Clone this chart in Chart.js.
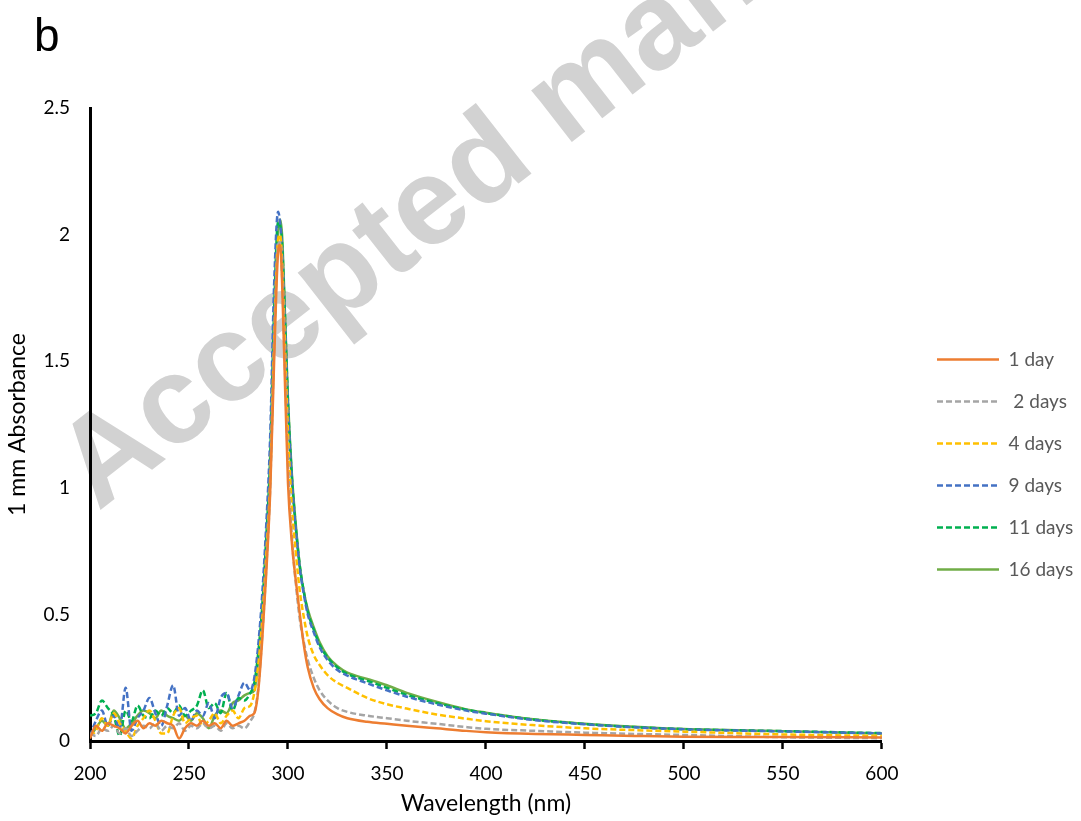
<!DOCTYPE html>
<html>
<head>
<meta charset="utf-8">
<script src="https://cdn.jsdelivr.net/npm/chart.js@4.4.0/dist/chart.umd.min.js"></script>
<style>
  body { margin: 0; background: #fff; }
  canvas { display: block; }
</style>
</head>
<body>
<canvas id="chart" width="1081" height="821"></canvas>
<script>
// wavelength (nm) shared by every series
const wavelength = [
  200, 203, 206, 209, 212, 215, 218, 221, 224, 227, 230, 233, 236, 239,
  242, 245, 248, 251, 254, 257, 260, 263, 266, 269, 272, 275, 278, 281,
  283, 285, 287, 289, 291, 293, 295, 296, 297, 298,
  300, 302, 304, 306, 308, 310, 313, 316, 320, 325, 330,
  340, 350, 360, 375, 390, 400, 425, 450, 475, 500, 550, 600
];

const day1 = [
  0.01, 0.06, 0.04, 0.07, 0.06, 0.05, 0.03, 0.06, 0.08, 0.05, 0.07, 0.06, 0.08, 0.07,
  0.06, 0.01, 0.05, 0.07, 0.06, 0.08, 0.06, 0.07, 0.05, 0.08, 0.06, 0.07, 0.08, 0.10,
  0.11, 0.20, 0.40, 0.66, 0.98, 1.50, 1.93, 1.96, 1.82, 1.55,
  1.02, 0.78, 0.63, 0.50, 0.38, 0.29, 0.21, 0.165, 0.13, 0.105, 0.090,
  0.076, 0.068, 0.060, 0.050, 0.040, 0.035, 0.028, 0.024, 0.020, 0.017, 0.016, 0.014
];
const days2 = [
  0.03, 0.02, 0.05, 0.04, 0.06, 0.03, 0.05, 0.02, 0.04, 0.06, 0.05, 0.07, 0.04, 0.06,
  0.05, 0.07, 0.04, 0.06, 0.05, 0.07, 0.05, 0.06, 0.04, 0.07, 0.05, 0.06, 0.05, 0.08,
  0.11, 0.21, 0.42, 0.68, 1.00, 1.55, 1.96, 1.97, 1.85, 1.60,
  1.10, 0.80, 0.62, 0.48, 0.39, 0.32, 0.25, 0.20, 0.16, 0.13, 0.115,
  0.100, 0.090, 0.080, 0.068, 0.055, 0.048, 0.040, 0.033, 0.028, 0.024, 0.015, 0.011
];
const days4 = [
  0.02, 0.04, 0.09, 0.06, 0.11, 0.07, 0.04, 0.01, 0.06, 0.09, 0.12, 0.08, 0.03, 0.03,
  0.10, 0.13, 0.07, 0.09, 0.10, 0.06, 0.08, 0.11, 0.07, 0.10, 0.12, 0.09, 0.13, 0.14,
  0.19, 0.30, 0.48, 0.73, 1.03, 1.58, 1.98, 2.00, 1.90, 1.68,
  1.22, 0.92, 0.74, 0.59, 0.49, 0.41, 0.34, 0.30, 0.26, 0.23, 0.21,
  0.170, 0.145, 0.128, 0.105, 0.088, 0.078, 0.062, 0.050, 0.043, 0.037, 0.026, 0.020
];
const days9 = [
  0.02, 0.08, 0.12, 0.06, 0.10, 0.05, 0.21, 0.04, 0.09, 0.12, 0.17, 0.11, 0.06, 0.14,
  0.22, 0.10, 0.13, 0.08, 0.12, 0.10, 0.15, 0.09, 0.17, 0.19, 0.13, 0.18, 0.23, 0.20,
  0.25, 0.38, 0.58, 0.85, 1.20, 1.80, 2.09, 2.05, 1.95, 1.75,
  1.32, 1.03, 0.83, 0.68, 0.58, 0.50, 0.43, 0.37, 0.32, 0.28, 0.258,
  0.228, 0.200, 0.175, 0.145, 0.120, 0.108, 0.082, 0.066, 0.054, 0.046, 0.038, 0.030
];
const days11 = [
  0.10, 0.11, 0.16, 0.13, 0.10, 0.02, 0.12, 0.08, 0.14, 0.10, 0.09, 0.12, 0.10, 0.13,
  0.11, 0.14, 0.10, 0.12, 0.14, 0.20, 0.13, 0.15, 0.11, 0.19, 0.12, 0.17, 0.16, 0.19,
  0.23, 0.35, 0.53, 0.80, 1.12, 1.70, 2.05, 2.04, 1.97, 1.78,
  1.34, 1.04, 0.84, 0.69, 0.59, 0.51, 0.44, 0.38, 0.33, 0.29, 0.265,
  0.238, 0.210, 0.182, 0.150, 0.124, 0.110, 0.084, 0.067, 0.055, 0.047, 0.039, 0.031
];
const days16 = [
  0.02, 0.05, 0.08, 0.06, 0.12, 0.09, 0.05, 0.07, 0.10, 0.12, 0.11, 0.09, 0.12, 0.10,
  0.09, 0.08, 0.10, 0.08, 0.11, 0.09, 0.05, 0.10, 0.12, 0.11, 0.15, 0.16, 0.18, 0.19,
  0.20, 0.32, 0.50, 0.75, 1.05, 1.60, 2.00, 2.06, 2.00, 1.80,
  1.35, 1.05, 0.85, 0.69, 0.59, 0.52, 0.45, 0.39, 0.335, 0.295, 0.27,
  0.245, 0.220, 0.190, 0.155, 0.125, 0.112, 0.085, 0.068, 0.056, 0.047, 0.039, 0.030
];

const seriesNames = ['1 day', ' 2 days', '4 days', '9 days', '11 days', '16 days'];
const seriesValues = [day1, days2, days4, days9, days11, days16];
const seriesColors = ['#ED7D31', '#A5A5A5', '#FFC000', '#4472C4', '#00B050', '#70AD47'];
const seriesDashed = [false, true, true, true, true, false];

const xTicks = [200, 250, 300, 350, 400, 450, 500, 550, 600];
const yTicks = [0, 0.5, 1, 1.5, 2, 2.5];

const FONT = 'Lato, "Open Sans", sans-serif';

const datasets = seriesNames.map((name, i) => ({
  label: name,
  data: wavelength.map((w, j) => ({ x: w, y: seriesValues[i][j] })),
  borderColor: seriesColors[i],
  backgroundColor: seriesColors[i],
  borderWidth: 2.5,
  borderDash: seriesDashed[i] ? [6, 3] : [],
  pointRadius: 0,
  cubicInterpolationMode: 'monotone',
  fill: false
}));

// watermark behind everything, panel letter on top,
// and push the legend a bit away from the plot
const decor = {
  id: 'decor',
  afterLayout(chart) {
    const lg = chart.legend;
    const shift = 937 - (lg.left + lg.options.labels.padding);
    lg.left += shift;
    lg.right += shift;
  },
  beforeDraw(chart) {
    const ctx = chart.ctx;
    ctx.save();
    ctx.translate(98, 512);
    ctx.rotate(-38 * Math.PI / 180);
    ctx.font = 'bold 124px "Liberation Sans", Arial, sans-serif';
    ctx.fillStyle = '#d2d2d2';
    ctx.fillText('Accepted manuscript', 0, 0);
    ctx.restore();
  },
  afterDraw(chart) {
    const ctx = chart.ctx;
    ctx.save();
    ctx.font = '46px "Liberation Sans", Arial, sans-serif';
    ctx.fillStyle = '#000';
    ctx.fillText('b', 34, 51);
    ctx.restore();
  }
};

new Chart(document.getElementById('chart'), {
  type: 'line',
  data: { datasets },
  plugins: [decor],
  options: {
    responsive: false,
    animation: false,
    layout: { padding: { top: 108, right: 30, left: 4, bottom: 0 } },
    plugins: {
      tooltip: { enabled: false },
      legend: {
        position: 'right',
        labels: {
          usePointStyle: true,
          pointStyle: 'line',
          pointStyleWidth: 62,
          color: '#595959',
          font: { family: FONT, size: 19 },
          padding: 23,
          generateLabels(chart) {
            const items = Chart.defaults.plugins.legend.labels.generateLabels(chart);
            items.forEach((it, i) => {
              const ds = chart.data.datasets[i];
              it.lineDash = ds.borderDash;
              it.lineWidth = ds.borderWidth;
              it.strokeStyle = ds.borderColor;
            });
            return items;
          }
        }
      }
    },
    scales: {
      x: {
        type: 'linear',
        min: 200,
        max: 600,
        afterBuildTicks: (s) => { s.ticks = xTicks.map(v => ({ value: v })); },
        afterFit: (s) => { s.height = 80; },
        ticks: { color: '#000', font: { family: FONT, size: 19 }, padding: 13 },
        grid: { drawOnChartArea: false, drawTicks: true, tickLength: 8, tickWidth: 2.5, tickColor: '#000' },
        border: { color: '#000', width: 3 },
        title: { display: true, text: 'Wavelength (nm)', color: '#000', font: { family: FONT, size: 23 } }
      },
      y: {
        min: 0,
        max: 2.5,
        afterBuildTicks: (s) => { s.ticks = yTicks.map(v => ({ value: v })); },
        afterFit: (s) => { s.width = 86; },
        ticks: { color: '#000', font: { family: FONT, size: 19 }, padding: 20, callback: (v) => String(v) },
        grid: { drawOnChartArea: false, drawTicks: false },
        border: { color: '#000', width: 3 },
        title: { display: true, text: '1 mm Absorbance', color: '#000', font: { family: FONT, size: 23 }, padding: 0 }
      }
    }
  }
});
</script>
</body>
</html>
